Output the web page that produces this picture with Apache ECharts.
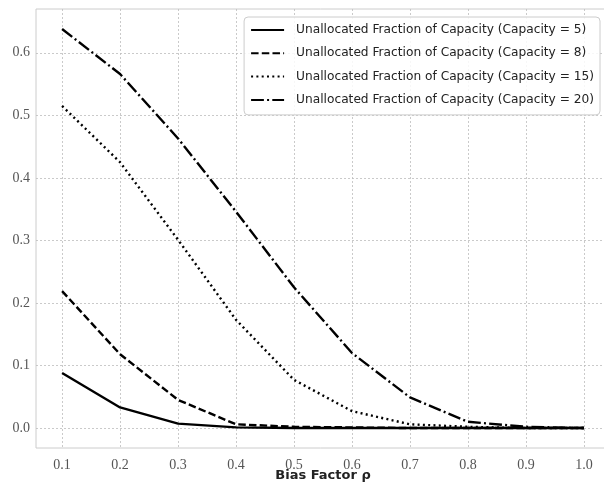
<!DOCTYPE html>
<html><head><meta charset="utf-8">
<script src="https://cdn.jsdelivr.net/npm/echarts@6/dist/echarts.min.js"></script>
<style>html,body{margin:0;padding:0;background:#fff}#c{width:604px;height:485px}</style>
</head><body><div id="c"></div>
<script>
const biasFactors = [0.1, 0.2, 0.3, 0.4, 0.5, 0.6, 0.7, 0.8, 0.9, 1.0];
const cap5  = [0.088, 0.033, 0.007, 0.001, 0.0, 0.0, 0.0, 0.0, 0.0, 0.0];
const cap8  = [0.219, 0.118, 0.045, 0.006, 0.002, 0.001, 0.0, 0.0, 0.0, 0.0];
const cap15 = [0.515, 0.425, 0.301, 0.173, 0.077, 0.027, 0.006, 0.002, 0.0, 0.0];
const cap20 = [0.638, 0.566, 0.463, 0.346, 0.225, 0.120, 0.049, 0.010, 0.002, 0.0];
const xTicks = [0.1, 0.2, 0.3, 0.4, 0.5, 0.6, 0.7, 0.8, 0.9, 1.0];
const yTicks = [0.0, 0.1, 0.2, 0.3, 0.4, 0.5, 0.6];
const seriesNames = [
  'Unallocated Fraction of Capacity (Capacity = 5)',
  'Unallocated Fraction of Capacity (Capacity = 8)',
  'Unallocated Fraction of Capacity (Capacity = 15)',
  'Unallocated Fraction of Capacity (Capacity = 20)'
];
const seriesData = [cap5, cap8, cap15, cap20];
const dashTypes = ['solid', [7.5, 3.2], [2, 3.3], [12.8, 3.2, 2, 3.2]];

const chart = echarts.init(document.getElementById('c'), null, {renderer: 'canvas'});
const gridLine = {show: true, lineStyle: {color: '#bdbdbd', width: 0.8, type: [2, 2]}};
const tickFont = {fontFamily: 'Liberation Serif', fontSize: 14, color: '#555'};
chart.setOption({
  animation: false,
  backgroundColor: '#fff',
  grid: {left: 36, right: -6, top: 9, bottom: 37, show: true, borderColor: '#cccccc', borderWidth: 1,
         containLabel: false, outerBoundsMode: 'none'},
  xAxis: {
    type: 'value', min: 0.055, max: 1.045,
    axisLine: {show: false},
    axisTick: {show: false, customValues: xTicks},
    axisLabel: Object.assign({customValues: xTicks, margin: 10, formatter: v => v.toFixed(1)}, tickFont),
    splitLine: gridLine,
    name: 'Bias Factor ρ', nameLocation: 'middle', nameGap: 21, nameMoveOverlap: false,
    nameTextStyle: {fontFamily: 'DejaVu Sans', fontWeight: 'bold', fontSize: 13, color: '#222'}
  },
  yAxis: {
    type: 'value', min: -0.0319, max: 0.67,
    axisLine: {show: false},
    axisTick: {show: false, customValues: yTicks},
    axisLabel: Object.assign({customValues: yTicks, margin: 6, formatter: v => v.toFixed(1)}, tickFont),
    splitLine: gridLine
  },
  legend: {
    orient: 'vertical', right: 4, top: 17,
    padding: [7, 6, 9, 6],
    itemWidth: 33, itemHeight: 14, itemGap: 11.3,
    backgroundColor: 'rgba(255,255,255,0.85)',
    borderColor: '#cccccc', borderWidth: 1, borderRadius: 4,
    itemStyle: {opacity: 0},
    textStyle: {fontFamily: 'DejaVu Sans', fontSize: 12.2, color: '#222', padding: [0, 0, 0, 7]},
    data: seriesNames
  },
  series: seriesNames.map((n, i) => ({
    name: n, type: 'line', showSymbol: false, symbol: 'none',
    data: biasFactors.map((x, j) => [x, seriesData[i][j]]),
    lineStyle: {color: '#000', width: 2.4, type: dashTypes[i]},
    itemStyle: {color: '#000'}
  }))
});
</script></body></html>
